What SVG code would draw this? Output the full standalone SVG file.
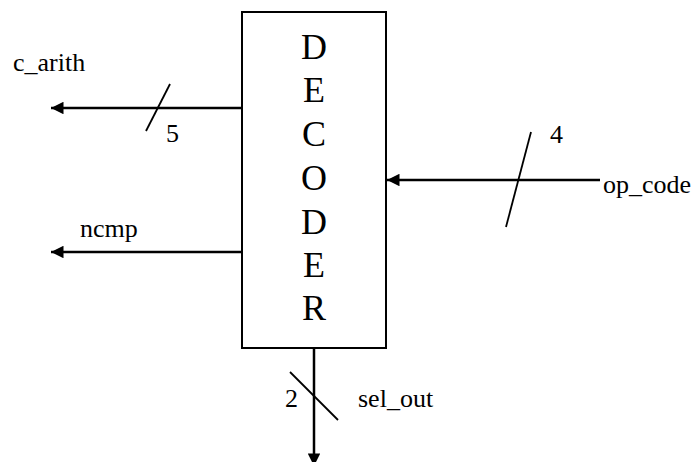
<svg xmlns="http://www.w3.org/2000/svg" width="699" height="462" viewBox="0 0 699 462">
<defs>
<marker id="ah" viewBox="0 0 10 10" refX="10" refY="5" markerWidth="6" markerHeight="5" markerUnits="strokeWidth" orient="auto">
<path d="M0,0 L10,5 L0,10 z" fill="#000"/>
</marker>
</defs>
<rect width="699" height="462" fill="#fff"/>
<g id="decoder" text-anchor="middle" font-family="Liberation Serif" font-size="36">
<rect x="242" y="12" width="144" height="336" fill="#fff" stroke="#000" stroke-width="2"/>
<text x="314" y="59">D</text>
<text x="314" y="102">E</text>
<text x="314" y="146">C</text>
<text x="314" y="190">O</text>
<text x="314" y="234">D</text>
<text x="314" y="277">E</text>
<text x="314" y="320">R</text>
</g>
<g id="connectors" stroke="#000" fill="none">
<line stroke-width="2.5" x1="242" y1="108" x2="51" y2="108" marker-end="url(#ah)"/>
<line stroke-width="1.8" x1="146" y1="131" x2="170" y2="84"/>
<line stroke-width="2.5" x1="242" y1="252" x2="51" y2="252" marker-end="url(#ah)"/>
<line stroke-width="2.5" x1="600" y1="180" x2="387" y2="180" marker-end="url(#ah)"/>
<line stroke-width="1.8" x1="506" y1="227" x2="531" y2="132"/>
<line stroke-width="2.5" x1="314" y1="348" x2="314" y2="466" marker-end="url(#ah)"/>
<line stroke-width="1.8" x1="290" y1="372" x2="338" y2="420"/>
</g>
<g id="labels" font-family="Liberation Serif" font-size="26" fill="#000">
<text x="13" y="71">c_arith</text>
<text x="166" y="142">5</text>
<text x="80" y="237">ncmp</text>
<text x="603" y="193">op_code</text>
<text x="550" y="143">4</text>
<text x="285" y="407">2</text>
<text x="358" y="407">sel_out</text>
</g>
</svg>
